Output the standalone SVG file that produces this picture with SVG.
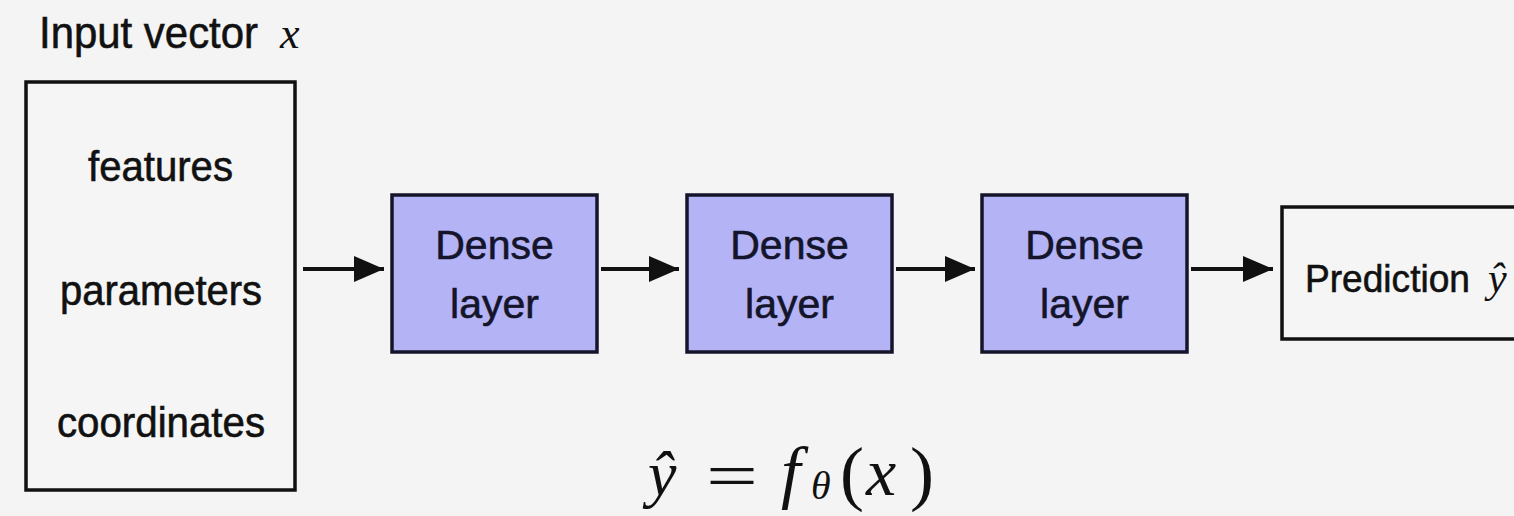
<svg xmlns="http://www.w3.org/2000/svg" width="1514" height="516" viewBox="0 0 1514 516">
<defs>
<style>
.lbl{font-family:"Liberation Sans",Arial,sans-serif;fill:#111;stroke:#111;stroke-width:0.6;}
.box{fill:#f5f5f5;stroke:#111;stroke-width:3.5;}
.dense{fill:#b3b3f6;stroke:#14142a;stroke-width:3.5;}
.dtxt{font-family:"Liberation Sans",Arial,sans-serif;font-size:41px;fill:#14142a;stroke:#14142a;stroke-width:0.6;text-anchor:middle;}
.math{font-family:"Liberation Serif","Times New Roman",serif;font-style:italic;fill:#111;stroke:none;}
.conn{stroke:#111;stroke-width:4;fill:none;}
</style>
<marker id="ah" viewBox="0 0 30 26" refX="30" refY="13" markerWidth="30" markerHeight="26" markerUnits="userSpaceOnUse" orient="auto">
<path d="M0,0 L30,13 L0,26 Z" fill="#111"/>
</marker>
</defs>
<rect width="1514" height="516" fill="#f4f4f4"/>
<g id="title">
<text class="lbl" x="39" y="48" font-size="44"><tspan textLength="219" lengthAdjust="spacingAndGlyphs">Input vector</tspan><tspan class="math" x="280" font-size="44">x</tspan></text>
</g>
<g id="input">
<rect class="box" x="26" y="82" width="269" height="408"/>
<text class="lbl" x="88" y="181" font-size="42" textLength="145" lengthAdjust="spacingAndGlyphs">features</text>
<text class="lbl" x="60" y="305" font-size="42" textLength="202" lengthAdjust="spacingAndGlyphs">parameters</text>
<text class="lbl" x="57" y="437" font-size="42" textLength="208" lengthAdjust="spacingAndGlyphs">coordinates</text>
</g>
<g id="dense1">
<rect class="dense" x="392" y="195" width="205" height="157"/>
<text class="dtxt" x="494.5" y="259">Dense</text>
<text class="dtxt" x="494.5" y="318">layer</text>
</g>
<g id="dense2">
<rect class="dense" x="687" y="195" width="205" height="157"/>
<text class="dtxt" x="789.5" y="259">Dense</text>
<text class="dtxt" x="789.5" y="318">layer</text>
</g>
<g id="dense3">
<rect class="dense" x="982" y="195" width="205" height="157"/>
<text class="dtxt" x="1084.5" y="259">Dense</text>
<text class="dtxt" x="1084.5" y="318">layer</text>
</g>
<g id="prediction">
<rect class="box" x="1282" y="207" width="260" height="132"/>
<text class="lbl" x="1305" y="292" font-size="39"><tspan textLength="165" lengthAdjust="spacingAndGlyphs">Prediction</tspan><tspan class="math" x="1488" font-size="42">ŷ</tspan></text>
</g>
<g id="connectors">
<line class="conn" x1="303" y1="269" x2="384" y2="269" marker-end="url(#ah)"/>
<line class="conn" x1="601" y1="269" x2="679" y2="269" marker-end="url(#ah)"/>
<line class="conn" x1="896" y1="269" x2="975" y2="269" marker-end="url(#ah)"/>
<line class="conn" x1="1191" y1="269" x2="1273" y2="269" marker-end="url(#ah)"/>
</g>
<g id="formula">
<text class="math" y="495" font-size="64"><tspan x="648">ŷ</tspan><tspan x="706" y="497" font-style="normal" textLength="52" lengthAdjust="spacingAndGlyphs">=</tspan><tspan x="781" y="495" font-size="70">f</tspan><tspan x="811" y="499" font-size="40">θ</tspan><tspan x="840" y="497" font-style="normal" font-size="72">(</tspan><tspan x="866" y="495" font-size="68">x</tspan><tspan x="910" y="497" font-style="normal" font-size="72">)</tspan></text>
</g>
</svg>
